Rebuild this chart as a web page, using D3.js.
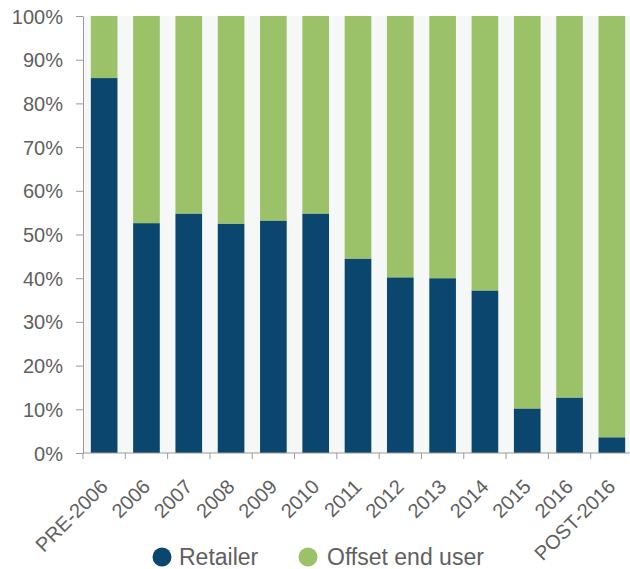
<!DOCTYPE html>
<html>
<head>
<meta charset="utf-8">
<script src="https://cdn.jsdelivr.net/npm/d3@7"></script>
<style>
  body { margin: 0; background: #fff; }
  text { font-family: "Liberation Sans", Arial, sans-serif; }
</style>
</head>
<body>
<div id="chart"></div>
<script>
// data
const categories = ["PRE-2006", "2006", "2007", "2008", "2009", "2010", "2011", "2012", "2013", "2014", "2015", "2016", "POST-2016"];
const retailer = [0.858, 0.526, 0.548, 0.525, 0.532, 0.548, 0.445, 0.402, 0.400, 0.372, 0.102, 0.127, 0.036];
const offsetEndUser = retailer.map(v => 1 - v);
const seriesNames = ["Retailer", "Offset end user"];
const colors = ["#0b466f", "#9cc269"];
const yTicks = [0, 0.1, 0.2, 0.3, 0.4, 0.5, 0.6, 0.7, 0.8, 0.9, 1];

const W = 630, H = 569;
const margin = { top: 16, right: -3, bottom: 116, left: 83 };

const svg = d3.select("#chart").append("svg")
    .attr("width", W)
    .attr("height", H);

const x = d3.scaleBand()
    .domain(categories)
    .range([margin.left, W - margin.right])
    .paddingInner(0.37)
    .paddingOuter(0.185);

const y = d3.scaleLinear()
    .domain([0, 1])
    .range([H - margin.bottom, margin.top]);

// plot background
svg.append("rect")
    .attr("x", margin.left)
    .attr("y", y(1))
    .attr("width", W - margin.left)
    .attr("height", y(0) - y(1))
    .attr("fill", "#f6f8f8");

// stacked bars
const rows = categories.map((c, i) => ({ cat: c, Retailer: retailer[i], "Offset end user": offsetEndUser[i] }));
const stacked = d3.stack().keys(seriesNames)(rows);

svg.selectAll(".series")
    .data(stacked)
    .enter()
    .append("g")
    .attr("class", "series")
    .attr("fill", (d, i) => colors[i])
    .selectAll("rect")
    .data(d => d)
    .enter()
    .append("rect")
    .attr("x", d => x(d.data.cat))
    .attr("y", d => y(d[1]))
    .attr("width", x.bandwidth())
    .attr("height", d => y(d[0]) - y(d[1]));

// y axis
const yAxis = svg.append("g")
    .attr("transform", `translate(${margin.left},0)`)
    .call(d3.axisLeft(y).tickValues(yTicks).tickFormat(d3.format(".0%")).tickSize(7).tickSizeOuter(0));
yAxis.select(".domain").attr("stroke", "#9a9a9a");
yAxis.selectAll(".tick line").attr("stroke", "#9a9a9a");
yAxis.selectAll(".tick text")
    .attr("font-size", 20)
    .attr("fill", "#5f5f5f")
    .attr("x", -20)
    .attr("dy", "0.35em");

// x axis: labels centred on bars, ticks at band boundaries
const xAxis = svg.append("g")
    .attr("transform", `translate(0,${y(0)})`);

xAxis.append("line")
    .attr("x1", margin.left)
    .attr("x2", W)
    .attr("stroke", "#9a9a9a");

const gap = x.step() * x.paddingInner() / 2;
xAxis.selectAll(".bound")
    .data(categories)
    .enter()
    .append("line")
    .attr("class", "bound")
    .attr("x1", d => x(d) - gap)
    .attr("x2", d => x(d) - gap)
    .attr("y1", 0)
    .attr("y2", 6)
    .attr("stroke", "#9a9a9a");

xAxis.selectAll(".xlabel")
    .data(categories)
    .enter()
    .append("text")
    .attr("class", "xlabel")
    .attr("text-anchor", "end")
    .attr("font-size", 20)
    .attr("fill", "#5f5f5f")
    .attr("transform", d => `translate(${x(d) + x.bandwidth() / 2 - 5},${25}) rotate(-45)`)
    .attr("dy", "0.7em")
    .text(d => d);

// legend
const legendItems = [
    { name: seriesNames[0], color: colors[0], cx: 162, tx: 179 },
    { name: seriesNames[1], color: colors[1], cx: 308, tx: 327 }
];
const legend = svg.append("g");
legend.selectAll("circle")
    .data(legendItems)
    .enter()
    .append("circle")
    .attr("cx", d => d.cx)
    .attr("cy", 557)
    .attr("r", 9.5)
    .attr("fill", d => d.color);
legend.selectAll("text")
    .data(legendItems)
    .enter()
    .append("text")
    .attr("x", d => d.tx)
    .attr("y", 557)
    .attr("dy", "0.36em")
    .attr("font-size", 23)
    .attr("fill", "#5f5f5f")
    .text(d => d.name);
</script>
</body>
</html>
